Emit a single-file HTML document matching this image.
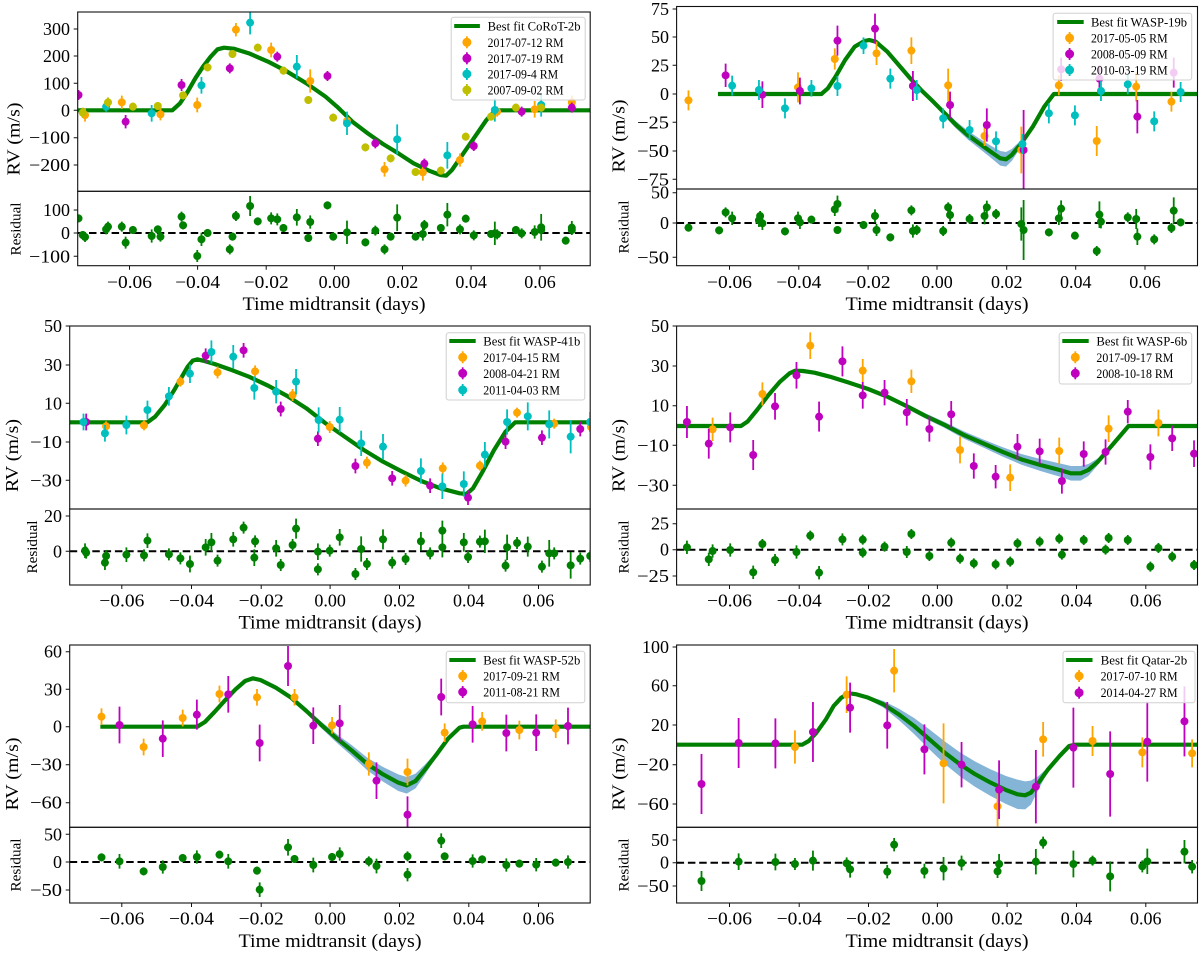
<!DOCTYPE html>
<html><head><meta charset="utf-8"><style>
body{margin:0;background:#fff}
svg{display:block}
text{font-family:"Liberation Serif",serif;fill:#000}
.t{font-size:18px}
.xl{font-size:19px}
.rl{font-size:15px}
.lg{font-size:13px}
.e{fill:none;stroke-width:1.8;vector-effect:non-scaling-stroke}
.fit{fill:none;stroke:#008000;stroke-width:4.2;vector-effect:non-scaling-stroke;stroke-linejoin:round}
.band{fill:#1f77b4;fill-opacity:0.55;stroke:none}
.o{fill:#ffa500;stroke:#ffa500}.m{fill:#bf00bf;stroke:#bf00bf}.c{fill:#00bfbf;stroke:#00bfbf}.y{fill:#bfbf00;stroke:#bfbf00}.g{fill:#008000;stroke:#008000}
ellipse{stroke:none}
.fr{fill:none;stroke:#111;stroke-width:1.1}
.tk{fill:none;stroke:#111;stroke-width:1}
.dz{stroke:#000;stroke-width:2;stroke-dasharray:7.5 3.8}
.lb{fill:#fff;fill-opacity:0.8;stroke:#d0d0d0;stroke-width:1}
.lh{stroke:#008000;stroke-width:4}
</style></head><body>
<svg width="1200" height="956" viewBox="0 0 1200 956" xmlns="http://www.w3.org/2000/svg">
<rect width="1200" height="956" fill="#fff"/>

<!-- dashed zero lines -->
<line class="dz" x1="77.7" y1="233" x2="590.2" y2="233"/>
<line class="dz" x1="676.6" y1="223" x2="1197.5" y2="223"/>
<line class="dz" x1="69.7" y1="551.3" x2="590.2" y2="551.3"/>
<line class="dz" x1="676.6" y1="549.7" x2="1197.5" y2="549.7"/>
<line class="dz" x1="69.7" y1="862" x2="590.2" y2="862"/>
<line class="dz" x1="676.6" y1="862.7" x2="1197.5" y2="862.7"/>

<!-- ============ PANEL 1 ============ -->
<g transform="translate(0,0) scale(0.383,0.333333)">
<clipPath id="c1m"><rect x="203" y="36" width="1338" height="538"/></clipPath>
<clipPath id="c1r"><rect x="203" y="574" width="1338" height="223"/></clipPath>
<g clip-path="url(#c1m)">
<polyline class="fit" points="203,331 450,331 470,310 490,275 510,235 530,200 550,170 568,148 585,143 610,146 650,160 700,185 750,215 800,250 850,290 880,320 920,365 960,400 1000,432 1040,460 1080,490 1120,512 1150,525 1165,527 1180,510 1210,460 1240,410 1270,360 1290,335 1305,331 1541,331"/>
<g class="o"><path class="e" d="M222 325V365M318 287V327M419 325V361M515 293V337M616 69V109M708 128V172M810 208V278M906 348V378M1004 486V530M1104 492V542M1201 460V500M1298 320V350M1396 303V353M1493 287V327"/>
<ellipse cx="222" cy="345" rx="10.44" ry="12"/><ellipse cx="318" cy="307" rx="10.44" ry="12"/><ellipse cx="419" cy="343" rx="10.44" ry="12"/><ellipse cx="515" cy="315" rx="10.44" ry="12"/><ellipse cx="616" cy="89" rx="10.44" ry="12"/><ellipse cx="708" cy="150" rx="10.44" ry="12"/><ellipse cx="810" cy="243" rx="10.44" ry="12"/><ellipse cx="906" cy="363" rx="10.44" ry="12"/><ellipse cx="1004" cy="508" rx="10.44" ry="12"/><ellipse cx="1104" cy="517" rx="10.44" ry="12"/><ellipse cx="1201" cy="480" rx="10.44" ry="12"/><ellipse cx="1298" cy="335" rx="10.44" ry="12"/><ellipse cx="1396" cy="328" rx="10.44" ry="12"/><ellipse cx="1493" cy="307" rx="10.44" ry="12"/></g>
<g class="m"><path class="e" d="M205 270V300M328 345V385M474 237V273M600 190V220M724 155V185M855 213V243M980 415V445M1108 476V506M1237 423V453M1362 320V350M1493 308V338"/>
<ellipse cx="205" cy="285" rx="10.44" ry="12"/><ellipse cx="328" cy="365" rx="10.44" ry="12"/><ellipse cx="474" cy="255" rx="10.44" ry="12"/><ellipse cx="600" cy="205" rx="10.44" ry="12"/><ellipse cx="724" cy="170" rx="10.44" ry="12"/><ellipse cx="855" cy="228" rx="10.44" ry="12"/><ellipse cx="980" cy="430" rx="10.44" ry="12"/><ellipse cx="1108" cy="491" rx="10.44" ry="12"/><ellipse cx="1237" cy="438" rx="10.44" ry="12"/><ellipse cx="1362" cy="335" rx="10.44" ry="12"/><ellipse cx="1493" cy="323" rx="10.44" ry="12"/></g>
<g class="c"><path class="e" d="M277 305V335M396 315V365M526 231V281M653 33V103M775 165V235M906 335V405M1037 373V463M1168 426V506M1292 295V365M1413 280V350"/>
<ellipse cx="277" cy="320" rx="10.44" ry="12"/><ellipse cx="396" cy="340" rx="10.44" ry="12"/><ellipse cx="526" cy="256" rx="10.44" ry="12"/><ellipse cx="653" cy="68" rx="10.44" ry="12"/><ellipse cx="775" cy="200" rx="10.44" ry="12"/><ellipse cx="906" cy="370" rx="10.44" ry="12"/><ellipse cx="1037" cy="418" rx="10.44" ry="12"/><ellipse cx="1168" cy="466" rx="10.44" ry="12"/><ellipse cx="1292" cy="330" rx="10.44" ry="12"/><ellipse cx="1413" cy="315" rx="10.44" ry="12"/></g>
<g class="y"><path class="e" d="M216 323V353M282 292V322M347 308V332M412 306V330M478 274V298M542 190V214M607 150V174M673 131V155M740 200V224M805 288V312M870 341V365M954 430V454M1020 463V487M1085 504V528M1151 500V524M1216 398V422M1282 338V362M1347 311V335M1413 311V335"/>
<ellipse cx="216" cy="338" rx="10.44" ry="12"/><ellipse cx="282" cy="307" rx="10.44" ry="12"/><ellipse cx="347" cy="320" rx="10.44" ry="12"/><ellipse cx="412" cy="318" rx="10.44" ry="12"/><ellipse cx="478" cy="286" rx="10.44" ry="12"/><ellipse cx="542" cy="202" rx="10.44" ry="12"/><ellipse cx="607" cy="162" rx="10.44" ry="12"/><ellipse cx="673" cy="143" rx="10.44" ry="12"/><ellipse cx="740" cy="212" rx="10.44" ry="12"/><ellipse cx="805" cy="300" rx="10.44" ry="12"/><ellipse cx="870" cy="353" rx="10.44" ry="12"/><ellipse cx="954" cy="442" rx="10.44" ry="12"/><ellipse cx="1020" cy="475" rx="10.44" ry="12"/><ellipse cx="1085" cy="516" rx="10.44" ry="12"/><ellipse cx="1151" cy="512" rx="10.44" ry="12"/><ellipse cx="1216" cy="410" rx="10.44" ry="12"/><ellipse cx="1282" cy="350" rx="10.44" ry="12"/><ellipse cx="1347" cy="323" rx="10.44" ry="12"/><ellipse cx="1413" cy="323" rx="10.44" ry="12"/></g>
</g>
<g clip-path="url(#c1r)" class="g"><path class="e" d="M216 693V717M222 696V726M277 673V703M282 665V695M318 665V695M328 710V746M347 678V702M396 688V728M412 676V700M419 695V725M474 635V665M478 664V688M515 750V786M526 698V738M542 687V711M600 733V763M607 698V722M616 633V663M653 588V648M673 652V676M708 637V673M724 640V676M740 672V696M775 627V677M805 702V726M810 646V686M855 604V628M870 698V722M906 662V732M954 715V739M980 677V707M1004 733V763M1020 698V722M1037 613V693M1085 698V722M1104 682V722M1108 660V690M1151 672V696M1168 609V679M1201 673V703M1216 644V668M1237 691V721M1282 690V714M1292 665V735M1298 688V718M1347 678V702M1362 685V715M1396 676V716M1413 642V722M1413 678V702M1477 710V734M1493 663V703M1493 675V705M205 643V667"/>
<ellipse cx="216" cy="705" rx="10.44" ry="12"/><ellipse cx="222" cy="711" rx="10.44" ry="12"/><ellipse cx="277" cy="688" rx="10.44" ry="12"/><ellipse cx="282" cy="680" rx="10.44" ry="12"/><ellipse cx="318" cy="680" rx="10.44" ry="12"/><ellipse cx="328" cy="728" rx="10.44" ry="12"/><ellipse cx="347" cy="690" rx="10.44" ry="12"/><ellipse cx="396" cy="708" rx="10.44" ry="12"/><ellipse cx="412" cy="688" rx="10.44" ry="12"/><ellipse cx="419" cy="710" rx="10.44" ry="12"/><ellipse cx="474" cy="650" rx="10.44" ry="12"/><ellipse cx="478" cy="676" rx="10.44" ry="12"/><ellipse cx="515" cy="768" rx="10.44" ry="12"/><ellipse cx="526" cy="718" rx="10.44" ry="12"/><ellipse cx="542" cy="699" rx="10.44" ry="12"/><ellipse cx="600" cy="748" rx="10.44" ry="12"/><ellipse cx="607" cy="710" rx="10.44" ry="12"/><ellipse cx="616" cy="648" rx="10.44" ry="12"/><ellipse cx="653" cy="618" rx="10.44" ry="12"/><ellipse cx="673" cy="664" rx="10.44" ry="12"/><ellipse cx="708" cy="655" rx="10.44" ry="12"/><ellipse cx="724" cy="658" rx="10.44" ry="12"/><ellipse cx="740" cy="684" rx="10.44" ry="12"/><ellipse cx="775" cy="652" rx="10.44" ry="12"/><ellipse cx="805" cy="714" rx="10.44" ry="12"/><ellipse cx="810" cy="666" rx="10.44" ry="12"/><ellipse cx="855" cy="616" rx="10.44" ry="12"/><ellipse cx="870" cy="710" rx="10.44" ry="12"/><ellipse cx="906" cy="697" rx="10.44" ry="12"/><ellipse cx="954" cy="727" rx="10.44" ry="12"/><ellipse cx="980" cy="692" rx="10.44" ry="12"/><ellipse cx="1004" cy="748" rx="10.44" ry="12"/><ellipse cx="1020" cy="710" rx="10.44" ry="12"/><ellipse cx="1037" cy="653" rx="10.44" ry="12"/><ellipse cx="1085" cy="710" rx="10.44" ry="12"/><ellipse cx="1104" cy="702" rx="10.44" ry="12"/><ellipse cx="1108" cy="675" rx="10.44" ry="12"/><ellipse cx="1151" cy="684" rx="10.44" ry="12"/><ellipse cx="1168" cy="644" rx="10.44" ry="12"/><ellipse cx="1201" cy="688" rx="10.44" ry="12"/><ellipse cx="1216" cy="656" rx="10.44" ry="12"/><ellipse cx="1237" cy="706" rx="10.44" ry="12"/><ellipse cx="1282" cy="702" rx="10.44" ry="12"/><ellipse cx="1292" cy="700" rx="10.44" ry="12"/><ellipse cx="1298" cy="703" rx="10.44" ry="12"/><ellipse cx="1347" cy="690" rx="10.44" ry="12"/><ellipse cx="1362" cy="700" rx="10.44" ry="12"/><ellipse cx="1396" cy="696" rx="10.44" ry="12"/><ellipse cx="1413" cy="682" rx="10.44" ry="12"/><ellipse cx="1413" cy="690" rx="10.44" ry="12"/><ellipse cx="1477" cy="722" rx="10.44" ry="12"/><ellipse cx="1493" cy="683" rx="10.44" ry="12"/><ellipse cx="1493" cy="690" rx="10.44" ry="12"/><ellipse cx="205" cy="655" rx="10.44" ry="12"/></g>
</g>

<!-- ============ PANEL 2 ============ -->
<g transform="translate(600,0) scale(0.383,0.333333)">
<clipPath id="c2m"><rect x="200" y="19.5" width="1360" height="547.5"/></clipPath>
<clipPath id="c2r"><rect x="200" y="567" width="1360" height="230"/></clipPath>
<g clip-path="url(#c2m)">
<polygon class="band" points="720,123 750,152 780,192 810,231 840,266 870,298 900,331 930,364 960,392 990,415 1020,437 1045,453 1060,456 1075,447 1100,420 1130,376 1160,318 1160,322 1130,384 1100,440 1075,483 1060,500 1045,497 1020,473 990,445 960,418 930,386 900,349 870,312 840,278 810,239 780,198 750,158 720,127"/>
<polyline class="fit" points="308,282 578,282 595,265 615,230 640,180 665,140 690,123 703,120 720,125 750,155 780,195 810,235 840,272 870,305 900,340 930,375 960,405 990,430 1020,455 1045,475 1060,478 1075,465 1100,430 1130,380 1160,320 1185,282 1560,282"/>
<g class="o"><path class="e" d="M231 271V331M517 217V307M613 145V209M722 125V195M813 112V192M909 206V306M1004 378V438M1100 380V520M1198 226V286M1297 378V468M1400 215V305M1492 275V335"/>
<ellipse cx="231" cy="301" rx="10.44" ry="12"/><ellipse cx="517" cy="262" rx="10.44" ry="12"/><ellipse cx="613" cy="177" rx="10.44" ry="12"/><ellipse cx="722" cy="160" rx="10.44" ry="12"/><ellipse cx="813" cy="152" rx="10.44" ry="12"/><ellipse cx="909" cy="256" rx="10.44" ry="12"/><ellipse cx="1004" cy="408" rx="10.44" ry="12"/><ellipse cx="1100" cy="450" rx="10.44" ry="12"/><ellipse cx="1198" cy="256" rx="10.44" ry="12"/><ellipse cx="1297" cy="423" rx="10.44" ry="12"/><ellipse cx="1400" cy="260" rx="10.44" ry="12"/><ellipse cx="1492" cy="305" rx="10.44" ry="12"/></g>
<g class="m"><path class="e" d="M328 191V261M424 244V324M522 233V313M620 77V167M718 41V131M817 213V303M914 275V355M1010 325V425M1106 330V570M1204 173V243M1304 196V276M1403 300V400M1498 173V263"/>
<ellipse cx="328" cy="226" rx="10.44" ry="12"/><ellipse cx="424" cy="284" rx="10.44" ry="12"/><ellipse cx="522" cy="273" rx="10.44" ry="12"/><ellipse cx="620" cy="122" rx="10.44" ry="12"/><ellipse cx="718" cy="86" rx="10.44" ry="12"/><ellipse cx="817" cy="258" rx="10.44" ry="12"/><ellipse cx="914" cy="315" rx="10.44" ry="12"/><ellipse cx="1010" cy="375" rx="10.44" ry="12"/><ellipse cx="1106" cy="450" rx="10.44" ry="12"/><ellipse cx="1204" cy="208" rx="10.44" ry="12"/><ellipse cx="1304" cy="236" rx="10.44" ry="12"/><ellipse cx="1403" cy="350" rx="10.44" ry="12"/><ellipse cx="1498" cy="218" rx="10.44" ry="12"/></g>
<g class="c"><path class="e" d="M345 227V287M415 240V300M483 295V355M552 240V290M620 228V288M688 112V162M758 206V266M827 240V300M896 325V385M965 360V420M1034 394V454M1103 402V462M1172 310V370M1240 316V376M1308 243V303M1378 223V283M1447 334V394M1516 246V306"/>
<ellipse cx="345" cy="257" rx="10.44" ry="12"/><ellipse cx="415" cy="270" rx="10.44" ry="12"/><ellipse cx="483" cy="325" rx="10.44" ry="12"/><ellipse cx="552" cy="265" rx="10.44" ry="12"/><ellipse cx="620" cy="258" rx="10.44" ry="12"/><ellipse cx="688" cy="137" rx="10.44" ry="12"/><ellipse cx="758" cy="236" rx="10.44" ry="12"/><ellipse cx="827" cy="270" rx="10.44" ry="12"/><ellipse cx="896" cy="355" rx="10.44" ry="12"/><ellipse cx="965" cy="390" rx="10.44" ry="12"/><ellipse cx="1034" cy="424" rx="10.44" ry="12"/><ellipse cx="1103" cy="432" rx="10.44" ry="12"/><ellipse cx="1172" cy="340" rx="10.44" ry="12"/><ellipse cx="1240" cy="346" rx="10.44" ry="12"/><ellipse cx="1308" cy="273" rx="10.44" ry="12"/><ellipse cx="1378" cy="253" rx="10.44" ry="12"/><ellipse cx="1447" cy="364" rx="10.44" ry="12"/><ellipse cx="1516" cy="276" rx="10.44" ry="12"/></g>
</g>
<g clip-path="url(#c2r)" class="g"><path class="e" d="M231 671V695M311 679V703M328 622V652M345 635V675M415 641V681M418 633V663M424 650V690M483 682V706M517 635V675M522 647V687M552 647V671M613 608V648M620 587V637M620 678V702M688 663V687M718 628V668M722 672V708M758 700V724M813 616V646M817 673V713M827 675V705M896 678V708M909 607V637M914 625V665M965 642V672M1004 623V673M1010 602V642M1034 627V657M1100 622V722M1106 600V780M1172 685V709M1198 635V675M1204 601V651M1240 695V719M1297 738V768M1304 604V684M1308 645V685M1378 637V667M1400 627V687M1403 685V735M1447 703V733M1492 669V699M1498 592V672M1516 655V679"/>
<ellipse cx="231" cy="683" rx="10.44" ry="12"/><ellipse cx="311" cy="691" rx="10.44" ry="12"/><ellipse cx="328" cy="637" rx="10.44" ry="12"/><ellipse cx="345" cy="655" rx="10.44" ry="12"/><ellipse cx="415" cy="661" rx="10.44" ry="12"/><ellipse cx="418" cy="648" rx="10.44" ry="12"/><ellipse cx="424" cy="670" rx="10.44" ry="12"/><ellipse cx="483" cy="694" rx="10.44" ry="12"/><ellipse cx="517" cy="655" rx="10.44" ry="12"/><ellipse cx="522" cy="667" rx="10.44" ry="12"/><ellipse cx="552" cy="659" rx="10.44" ry="12"/><ellipse cx="613" cy="628" rx="10.44" ry="12"/><ellipse cx="620" cy="612" rx="10.44" ry="12"/><ellipse cx="620" cy="690" rx="10.44" ry="12"/><ellipse cx="688" cy="675" rx="10.44" ry="12"/><ellipse cx="718" cy="648" rx="10.44" ry="12"/><ellipse cx="722" cy="690" rx="10.44" ry="12"/><ellipse cx="758" cy="712" rx="10.44" ry="12"/><ellipse cx="813" cy="631" rx="10.44" ry="12"/><ellipse cx="817" cy="693" rx="10.44" ry="12"/><ellipse cx="827" cy="690" rx="10.44" ry="12"/><ellipse cx="896" cy="693" rx="10.44" ry="12"/><ellipse cx="909" cy="622" rx="10.44" ry="12"/><ellipse cx="914" cy="645" rx="10.44" ry="12"/><ellipse cx="965" cy="657" rx="10.44" ry="12"/><ellipse cx="1004" cy="648" rx="10.44" ry="12"/><ellipse cx="1010" cy="622" rx="10.44" ry="12"/><ellipse cx="1034" cy="642" rx="10.44" ry="12"/><ellipse cx="1100" cy="672" rx="10.44" ry="12"/><ellipse cx="1106" cy="690" rx="10.44" ry="12"/><ellipse cx="1172" cy="697" rx="10.44" ry="12"/><ellipse cx="1198" cy="655" rx="10.44" ry="12"/><ellipse cx="1204" cy="626" rx="10.44" ry="12"/><ellipse cx="1240" cy="707" rx="10.44" ry="12"/><ellipse cx="1297" cy="753" rx="10.44" ry="12"/><ellipse cx="1304" cy="644" rx="10.44" ry="12"/><ellipse cx="1308" cy="665" rx="10.44" ry="12"/><ellipse cx="1378" cy="652" rx="10.44" ry="12"/><ellipse cx="1400" cy="657" rx="10.44" ry="12"/><ellipse cx="1403" cy="710" rx="10.44" ry="12"/><ellipse cx="1447" cy="718" rx="10.44" ry="12"/><ellipse cx="1492" cy="684" rx="10.44" ry="12"/><ellipse cx="1498" cy="632" rx="10.44" ry="12"/><ellipse cx="1516" cy="667" rx="10.44" ry="12"/></g>
</g>

<!-- ============ PANEL 3 ============ -->
<g transform="translate(0,310) scale(0.383,0.333333)">
<clipPath id="c3m"><rect x="182" y="48" width="1359" height="549"/></clipPath>
<clipPath id="c3r"><rect x="182" y="597" width="1359" height="228"/></clipPath>
<g clip-path="url(#c3m)">
<polyline class="fit" points="182,337 385,337 405,320 430,285 455,240 475,200 490,170 503,152 515,148 530,152 560,162 600,178 650,200 700,227 750,258 800,295 850,340 900,380 950,420 1000,455 1050,485 1100,513 1150,535 1200,550 1218,552 1235,535 1260,485 1290,420 1320,365 1345,337 1541,337"/>
<g class="o"><path class="e" d="M277 334V364M376 331V361M471 200V230M568 169V205M666 166V202M764 237V273M861 333V369M958 440V476M1059 494V530M1156 457V493M1253 452V482M1350 293V323M1447 326V356M1543 336V366"/>
<ellipse cx="277" cy="349" rx="10.44" ry="12"/><ellipse cx="376" cy="346" rx="10.44" ry="12"/><ellipse cx="471" cy="215" rx="10.44" ry="12"/><ellipse cx="568" cy="187" rx="10.44" ry="12"/><ellipse cx="666" cy="184" rx="10.44" ry="12"/><ellipse cx="764" cy="255" rx="10.44" ry="12"/><ellipse cx="861" cy="351" rx="10.44" ry="12"/><ellipse cx="958" cy="458" rx="10.44" ry="12"/><ellipse cx="1059" cy="512" rx="10.44" ry="12"/><ellipse cx="1156" cy="475" rx="10.44" ry="12"/><ellipse cx="1253" cy="467" rx="10.44" ry="12"/><ellipse cx="1350" cy="308" rx="10.44" ry="12"/><ellipse cx="1447" cy="341" rx="10.44" ry="12"/><ellipse cx="1543" cy="351" rx="10.44" ry="12"/></g>
<g class="m"><path class="e" d="M225 311V361M537 115V159M636 99V143M733 275V319M830 364V408M928 446V490M1024 483V527M1123 505V549M1222 541V585M1320 373V417M1415 361V405M1515 335V379"/>
<ellipse cx="225" cy="336" rx="10.44" ry="12"/><ellipse cx="537" cy="137" rx="10.44" ry="12"/><ellipse cx="636" cy="121" rx="10.44" ry="12"/><ellipse cx="733" cy="297" rx="10.44" ry="12"/><ellipse cx="830" cy="386" rx="10.44" ry="12"/><ellipse cx="928" cy="468" rx="10.44" ry="12"/><ellipse cx="1024" cy="505" rx="10.44" ry="12"/><ellipse cx="1123" cy="527" rx="10.44" ry="12"/><ellipse cx="1222" cy="563" rx="10.44" ry="12"/><ellipse cx="1320" cy="395" rx="10.44" ry="12"/><ellipse cx="1415" cy="383" rx="10.44" ry="12"/><ellipse cx="1515" cy="357" rx="10.44" ry="12"/></g>
<g class="c"><path class="e" d="M218 311V361M274 345V395M330 317V373M385 272V328M441 231V287M496 163V219M552 91V161M609 105V175M664 199V269M721 210V280M773 177V253M832 292V368M887 291V367M943 362V438M1000 372V448M1099 445V521M1155 491V567M1211 484V560M1266 396V472M1324 298V374M1378 277V361M1434 301V385M1490 330V430M1541 306V366"/>
<ellipse cx="218" cy="336" rx="10.44" ry="12"/><ellipse cx="274" cy="370" rx="10.44" ry="12"/><ellipse cx="330" cy="345" rx="10.44" ry="12"/><ellipse cx="385" cy="300" rx="10.44" ry="12"/><ellipse cx="441" cy="259" rx="10.44" ry="12"/><ellipse cx="496" cy="191" rx="10.44" ry="12"/><ellipse cx="552" cy="126" rx="10.44" ry="12"/><ellipse cx="609" cy="140" rx="10.44" ry="12"/><ellipse cx="664" cy="234" rx="10.44" ry="12"/><ellipse cx="721" cy="245" rx="10.44" ry="12"/><ellipse cx="773" cy="215" rx="10.44" ry="12"/><ellipse cx="832" cy="330" rx="10.44" ry="12"/><ellipse cx="887" cy="329" rx="10.44" ry="12"/><ellipse cx="943" cy="400" rx="10.44" ry="12"/><ellipse cx="1000" cy="410" rx="10.44" ry="12"/><ellipse cx="1099" cy="483" rx="10.44" ry="12"/><ellipse cx="1155" cy="529" rx="10.44" ry="12"/><ellipse cx="1211" cy="522" rx="10.44" ry="12"/><ellipse cx="1266" cy="434" rx="10.44" ry="12"/><ellipse cx="1324" cy="336" rx="10.44" ry="12"/><ellipse cx="1378" cy="319" rx="10.44" ry="12"/><ellipse cx="1434" cy="343" rx="10.44" ry="12"/><ellipse cx="1490" cy="380" rx="10.44" ry="12"/><ellipse cx="1541" cy="336" rx="10.44" ry="12"/></g>
</g>
<g clip-path="url(#c3r)" class="g"><path class="e" d="M222 700V744M225 710V746M274 736V780M277 720V756M330 712V756M376 718V754M385 670V714M441 715V751M471 727V763M496 737V787M537 687V737M552 669V725M568 734V770M609 666V710M636 635V671M664 718V768M666 676V712M721 690V740M733 747V783M764 687V723M773 626V686M830 700V750M830 760V796M861 704V740M887 657V707M928 774V810M943 679V755M958 744V780M1000 658V718M1024 740V776M1059 729V765M1099 666V722M1123 712V748M1155 632V692M1155 682V742M1211 669V725M1222 723V759M1253 677V713M1266 659V729M1320 749V785M1324 674V750M1350 681V717M1378 680V740M1415 752V788M1434 690V770M1447 712V748M1490 726V806M1515 728V764M1541 720V756"/>
<ellipse cx="222" cy="722" rx="10.44" ry="12"/><ellipse cx="225" cy="728" rx="10.44" ry="12"/><ellipse cx="274" cy="758" rx="10.44" ry="12"/><ellipse cx="277" cy="738" rx="10.44" ry="12"/><ellipse cx="330" cy="734" rx="10.44" ry="12"/><ellipse cx="376" cy="736" rx="10.44" ry="12"/><ellipse cx="385" cy="692" rx="10.44" ry="12"/><ellipse cx="441" cy="733" rx="10.44" ry="12"/><ellipse cx="471" cy="745" rx="10.44" ry="12"/><ellipse cx="496" cy="762" rx="10.44" ry="12"/><ellipse cx="537" cy="712" rx="10.44" ry="12"/><ellipse cx="552" cy="697" rx="10.44" ry="12"/><ellipse cx="568" cy="752" rx="10.44" ry="12"/><ellipse cx="609" cy="688" rx="10.44" ry="12"/><ellipse cx="636" cy="653" rx="10.44" ry="12"/><ellipse cx="664" cy="743" rx="10.44" ry="12"/><ellipse cx="666" cy="694" rx="10.44" ry="12"/><ellipse cx="721" cy="715" rx="10.44" ry="12"/><ellipse cx="733" cy="765" rx="10.44" ry="12"/><ellipse cx="764" cy="705" rx="10.44" ry="12"/><ellipse cx="773" cy="656" rx="10.44" ry="12"/><ellipse cx="830" cy="725" rx="10.44" ry="12"/><ellipse cx="830" cy="778" rx="10.44" ry="12"/><ellipse cx="861" cy="722" rx="10.44" ry="12"/><ellipse cx="887" cy="682" rx="10.44" ry="12"/><ellipse cx="928" cy="792" rx="10.44" ry="12"/><ellipse cx="943" cy="717" rx="10.44" ry="12"/><ellipse cx="958" cy="762" rx="10.44" ry="12"/><ellipse cx="1000" cy="688" rx="10.44" ry="12"/><ellipse cx="1024" cy="758" rx="10.44" ry="12"/><ellipse cx="1059" cy="747" rx="10.44" ry="12"/><ellipse cx="1099" cy="694" rx="10.44" ry="12"/><ellipse cx="1123" cy="730" rx="10.44" ry="12"/><ellipse cx="1155" cy="662" rx="10.44" ry="12"/><ellipse cx="1155" cy="712" rx="10.44" ry="12"/><ellipse cx="1211" cy="697" rx="10.44" ry="12"/><ellipse cx="1222" cy="741" rx="10.44" ry="12"/><ellipse cx="1253" cy="695" rx="10.44" ry="12"/><ellipse cx="1266" cy="694" rx="10.44" ry="12"/><ellipse cx="1320" cy="767" rx="10.44" ry="12"/><ellipse cx="1324" cy="712" rx="10.44" ry="12"/><ellipse cx="1350" cy="699" rx="10.44" ry="12"/><ellipse cx="1378" cy="710" rx="10.44" ry="12"/><ellipse cx="1415" cy="770" rx="10.44" ry="12"/><ellipse cx="1434" cy="730" rx="10.44" ry="12"/><ellipse cx="1447" cy="730" rx="10.44" ry="12"/><ellipse cx="1490" cy="766" rx="10.44" ry="12"/><ellipse cx="1515" cy="746" rx="10.44" ry="12"/><ellipse cx="1541" cy="738" rx="10.44" ry="12"/></g>
</g>

<!-- ============ PANEL 4 ============ -->
<g transform="translate(600,310) scale(0.383,0.333333)">
<clipPath id="c4m"><rect x="200" y="48" width="1360" height="549"/></clipPath>
<clipPath id="c4r"><rect x="200" y="597" width="1360" height="228"/></clipPath>
<g clip-path="url(#c4m)">
<polygon class="band" points="480,204 510,179 560,184 600,196 650,213 700,232 750,254 800,281 850,310 900,336 950,364 1000,388 1050,411 1100,432 1150,447 1200,460 1230,468 1255,468 1275,462 1300,445 1330,412 1330,418 1300,465 1275,498 1255,512 1230,512 1200,500 1150,483 1100,464 1050,439 1000,412 950,386 900,354 850,326 800,295 750,266 700,242 650,223 600,204 560,192 510,185 480,206"/>
<polyline class="fit" points="200,348 368,348 385,335 410,300 440,255 470,215 495,190 510,182 530,183 560,188 600,200 650,218 700,237 750,260 800,288 850,318 900,345 950,375 1000,400 1050,425 1100,448 1150,465 1200,480 1230,490 1255,490 1275,480 1300,455 1330,415 1360,375 1380,348 1560,348"/>
<g class="o"><path class="e" d="M294 323V393M424 217V287M549 67V147M686 147V217M813 179V249M940 380V460M1071 463V543M1199 383V463M1328 316V396M1458 299V379"/>
<ellipse cx="294" cy="358" rx="10.44" ry="12"/><ellipse cx="424" cy="252" rx="10.44" ry="12"/><ellipse cx="549" cy="107" rx="10.44" ry="12"/><ellipse cx="686" cy="182" rx="10.44" ry="12"/><ellipse cx="813" cy="214" rx="10.44" ry="12"/><ellipse cx="940" cy="420" rx="10.44" ry="12"/><ellipse cx="1071" cy="503" rx="10.44" ry="12"/><ellipse cx="1199" cy="423" rx="10.44" ry="12"/><ellipse cx="1328" cy="356" rx="10.44" ry="12"/><ellipse cx="1458" cy="339" rx="10.44" ry="12"/></g>
<g class="m"><path class="e" d="M227 288V384M284 356V446M340 307V397M400 390V480M457 249V329M513 156V236M572 275V365M633 109V199M686 216V296M743 210V286M801 267V347M860 319V395M917 273V353M976 430V506M1033 465V535M1090 372V448M1148 386V462M1206 475V551M1263 394V470M1320 388V464M1378 270V340M1437 403V479M1494 347V423M1551 391V471"/>
<ellipse cx="227" cy="336" rx="10.44" ry="12"/><ellipse cx="284" cy="401" rx="10.44" ry="12"/><ellipse cx="340" cy="352" rx="10.44" ry="12"/><ellipse cx="400" cy="435" rx="10.44" ry="12"/><ellipse cx="457" cy="289" rx="10.44" ry="12"/><ellipse cx="513" cy="196" rx="10.44" ry="12"/><ellipse cx="572" cy="320" rx="10.44" ry="12"/><ellipse cx="633" cy="154" rx="10.44" ry="12"/><ellipse cx="686" cy="256" rx="10.44" ry="12"/><ellipse cx="743" cy="248" rx="10.44" ry="12"/><ellipse cx="801" cy="307" rx="10.44" ry="12"/><ellipse cx="860" cy="357" rx="10.44" ry="12"/><ellipse cx="917" cy="313" rx="10.44" ry="12"/><ellipse cx="976" cy="468" rx="10.44" ry="12"/><ellipse cx="1033" cy="500" rx="10.44" ry="12"/><ellipse cx="1090" cy="410" rx="10.44" ry="12"/><ellipse cx="1148" cy="424" rx="10.44" ry="12"/><ellipse cx="1206" cy="513" rx="10.44" ry="12"/><ellipse cx="1263" cy="432" rx="10.44" ry="12"/><ellipse cx="1320" cy="426" rx="10.44" ry="12"/><ellipse cx="1378" cy="305" rx="10.44" ry="12"/><ellipse cx="1437" cy="441" rx="10.44" ry="12"/><ellipse cx="1494" cy="385" rx="10.44" ry="12"/><ellipse cx="1551" cy="431" rx="10.44" ry="12"/></g>
</g>
<g clip-path="url(#c4r)" class="g"><path class="e" d="M227 692V732M284 728V768M294 703V743M340 700V740M400 767V807M424 687V717M457 732V768M513 706V746M549 662V692M572 768V808M633 670V706M686 674V704M686 713V743M743 695V725M801 708V744M813 657V687M860 723V753M917 683V713M940 731V761M976 745V775M1033 748V778M1071 740V770M1090 685V715M1148 680V710M1199 671V701M1206 719V749M1263 675V705M1320 704V734M1328 669V699M1378 675V705M1437 755V785M1458 699V729M1494 725V755M1551 750V780"/>
<ellipse cx="227" cy="712" rx="10.44" ry="12"/><ellipse cx="284" cy="748" rx="10.44" ry="12"/><ellipse cx="294" cy="723" rx="10.44" ry="12"/><ellipse cx="340" cy="720" rx="10.44" ry="12"/><ellipse cx="400" cy="787" rx="10.44" ry="12"/><ellipse cx="424" cy="702" rx="10.44" ry="12"/><ellipse cx="457" cy="750" rx="10.44" ry="12"/><ellipse cx="513" cy="726" rx="10.44" ry="12"/><ellipse cx="549" cy="677" rx="10.44" ry="12"/><ellipse cx="572" cy="788" rx="10.44" ry="12"/><ellipse cx="633" cy="688" rx="10.44" ry="12"/><ellipse cx="686" cy="689" rx="10.44" ry="12"/><ellipse cx="686" cy="728" rx="10.44" ry="12"/><ellipse cx="743" cy="710" rx="10.44" ry="12"/><ellipse cx="801" cy="726" rx="10.44" ry="12"/><ellipse cx="813" cy="672" rx="10.44" ry="12"/><ellipse cx="860" cy="738" rx="10.44" ry="12"/><ellipse cx="917" cy="698" rx="10.44" ry="12"/><ellipse cx="940" cy="746" rx="10.44" ry="12"/><ellipse cx="976" cy="760" rx="10.44" ry="12"/><ellipse cx="1033" cy="763" rx="10.44" ry="12"/><ellipse cx="1071" cy="755" rx="10.44" ry="12"/><ellipse cx="1090" cy="700" rx="10.44" ry="12"/><ellipse cx="1148" cy="695" rx="10.44" ry="12"/><ellipse cx="1199" cy="686" rx="10.44" ry="12"/><ellipse cx="1206" cy="734" rx="10.44" ry="12"/><ellipse cx="1263" cy="690" rx="10.44" ry="12"/><ellipse cx="1320" cy="719" rx="10.44" ry="12"/><ellipse cx="1328" cy="684" rx="10.44" ry="12"/><ellipse cx="1378" cy="690" rx="10.44" ry="12"/><ellipse cx="1437" cy="770" rx="10.44" ry="12"/><ellipse cx="1458" cy="714" rx="10.44" ry="12"/><ellipse cx="1494" cy="740" rx="10.44" ry="12"/><ellipse cx="1551" cy="765" rx="10.44" ry="12"/></g>
</g>

<!-- ============ PANEL 5 ============ -->
<g transform="translate(0,636) scale(0.383,0.333333)">
<clipPath id="c5m"><rect x="182" y="27" width="1359" height="547"/></clipPath>
<clipPath id="c5r"><rect x="182" y="574" width="1359" height="227"/></clipPath>
<g clip-path="url(#c5m)">
<polygon class="band" points="760,183 800,219 840,258 880,295 920,329 960,366 1000,393 1040,415 1062,423 1085,413 1110,385 1140,348 1170,307 1170,309 1140,362 1110,415 1085,457 1062,473 1040,465 1000,437 960,404 920,361 880,321 840,278 800,231 760,187"/>
<polyline class="fit" points="262,272 515,272 535,258 560,228 590,190 615,160 640,135 660,127 680,132 720,155 760,185 800,225 840,268 880,308 920,345 960,385 1000,415 1040,440 1062,448 1085,435 1110,400 1140,355 1170,308 1200,275 1210,272 1541,272"/>
<g class="o"><path class="e" d="M265 217V267M375 308V358M477 221V271M573 149V199M671 159V209M769 159V209M867 243V293M963 349V419M1064 368V448M1161 262V318M1259 228V284M1356 254V310M1451 250V306"/>
<ellipse cx="265" cy="242" rx="10.44" ry="12"/><ellipse cx="375" cy="333" rx="10.44" ry="12"/><ellipse cx="477" cy="246" rx="10.44" ry="12"/><ellipse cx="573" cy="174" rx="10.44" ry="12"/><ellipse cx="671" cy="184" rx="10.44" ry="12"/><ellipse cx="769" cy="184" rx="10.44" ry="12"/><ellipse cx="867" cy="268" rx="10.44" ry="12"/><ellipse cx="963" cy="384" rx="10.44" ry="12"/><ellipse cx="1064" cy="408" rx="10.44" ry="12"/><ellipse cx="1161" cy="290" rx="10.44" ry="12"/><ellipse cx="1259" cy="256" rx="10.44" ry="12"/><ellipse cx="1356" cy="282" rx="10.44" ry="12"/><ellipse cx="1451" cy="278" rx="10.44" ry="12"/></g>
<g class="m"><path class="e" d="M312 212V322M425 253V363M514 191V281M596 120V230M678 266V376M752 30V150M818 214V324M887 207V317M983 379V489M1064 481V591M1152 128V238M1234 210V320M1322 236V346M1400 235V345M1483 215V325"/>
<ellipse cx="312" cy="267" rx="10.44" ry="12"/><ellipse cx="425" cy="308" rx="10.44" ry="12"/><ellipse cx="514" cy="236" rx="10.44" ry="12"/><ellipse cx="596" cy="175" rx="10.44" ry="12"/><ellipse cx="678" cy="321" rx="10.44" ry="12"/><ellipse cx="752" cy="90" rx="10.44" ry="12"/><ellipse cx="818" cy="269" rx="10.44" ry="12"/><ellipse cx="887" cy="262" rx="10.44" ry="12"/><ellipse cx="983" cy="434" rx="10.44" ry="12"/><ellipse cx="1064" cy="536" rx="10.44" ry="12"/><ellipse cx="1152" cy="183" rx="10.44" ry="12"/><ellipse cx="1234" cy="265" rx="10.44" ry="12"/><ellipse cx="1322" cy="291" rx="10.44" ry="12"/><ellipse cx="1400" cy="290" rx="10.44" ry="12"/><ellipse cx="1483" cy="270" rx="10.44" ry="12"/></g>
</g>
<g clip-path="url(#c5r)" class="g"><path class="e" d="M265 652V676M312 654V698M375 694V718M425 673V713M477 654V678M514 643V683M573 644V668M596 654V698M671 692V716M678 739V783M752 609V659M769 657V681M818 665V709M867 651V675M887 634V674M963 661V691M983 668V712M1064 646V676M1064 696V736M1152 592V636M1161 649V673M1234 655V695M1259 658V682M1322 667V707M1356 671V695M1400 666V706M1451 668V692M1483 658V698"/>
<ellipse cx="265" cy="664" rx="10.44" ry="12"/><ellipse cx="312" cy="676" rx="10.44" ry="12"/><ellipse cx="375" cy="706" rx="10.44" ry="12"/><ellipse cx="425" cy="693" rx="10.44" ry="12"/><ellipse cx="477" cy="666" rx="10.44" ry="12"/><ellipse cx="514" cy="663" rx="10.44" ry="12"/><ellipse cx="573" cy="656" rx="10.44" ry="12"/><ellipse cx="596" cy="676" rx="10.44" ry="12"/><ellipse cx="671" cy="704" rx="10.44" ry="12"/><ellipse cx="678" cy="761" rx="10.44" ry="12"/><ellipse cx="752" cy="634" rx="10.44" ry="12"/><ellipse cx="769" cy="669" rx="10.44" ry="12"/><ellipse cx="818" cy="687" rx="10.44" ry="12"/><ellipse cx="867" cy="663" rx="10.44" ry="12"/><ellipse cx="887" cy="654" rx="10.44" ry="12"/><ellipse cx="963" cy="676" rx="10.44" ry="12"/><ellipse cx="983" cy="690" rx="10.44" ry="12"/><ellipse cx="1064" cy="661" rx="10.44" ry="12"/><ellipse cx="1064" cy="716" rx="10.44" ry="12"/><ellipse cx="1152" cy="614" rx="10.44" ry="12"/><ellipse cx="1161" cy="661" rx="10.44" ry="12"/><ellipse cx="1234" cy="675" rx="10.44" ry="12"/><ellipse cx="1259" cy="670" rx="10.44" ry="12"/><ellipse cx="1322" cy="687" rx="10.44" ry="12"/><ellipse cx="1356" cy="683" rx="10.44" ry="12"/><ellipse cx="1400" cy="686" rx="10.44" ry="12"/><ellipse cx="1451" cy="680" rx="10.44" ry="12"/><ellipse cx="1483" cy="678" rx="10.44" ry="12"/></g>
</g>

<!-- ============ PANEL 6 ============ -->
<g transform="translate(600,636) scale(0.383,0.333333)">
<clipPath id="c6m"><rect x="200" y="27" width="1360" height="547"/></clipPath>
<clipPath id="c6r"><rect x="200" y="574" width="1360" height="227"/></clipPath>
<g clip-path="url(#c6m)">
<polygon class="band" points="660,171 700,180 740,195 780,218 820,246 860,280 900,316 940,349 980,377 1020,400 1060,420 1090,431 1110,436 1125,434 1145,420 1170,394 1190,372 1190,374 1170,406 1145,460 1125,506 1110,520 1090,519 1060,504 1020,480 980,453 940,421 900,384 860,340 820,294 780,252 740,215 700,190 660,175"/>
<polyline class="fit" points="200,326 528,326 545,315 565,290 590,250 610,210 630,185 650,172 670,175 700,185 740,205 780,235 820,270 860,310 900,350 940,385 980,415 1020,440 1060,462 1090,475 1110,478 1125,470 1145,440 1170,400 1200,360 1225,330 1240,326 1560,326"/>
<g class="o"><path class="e" d="M509 283V383M644 121V231M768 39V169M897 262V502M1038 451V571M1157 258V362M1286 270V360M1416 304V394M1546 310V394"/>
<ellipse cx="509" cy="333" rx="10.44" ry="12"/><ellipse cx="644" cy="176" rx="10.44" ry="12"/><ellipse cx="768" cy="104" rx="10.44" ry="12"/><ellipse cx="897" cy="382" rx="10.44" ry="12"/><ellipse cx="1038" cy="511" rx="10.44" ry="12"/><ellipse cx="1157" cy="310" rx="10.44" ry="12"/><ellipse cx="1286" cy="315" rx="10.44" ry="12"/><ellipse cx="1416" cy="349" rx="10.44" ry="12"/><ellipse cx="1546" cy="352" rx="10.44" ry="12"/></g>
<g class="m"><path class="e" d="M265 354V534M362 246V396M458 247V397M556 198V378M653 140V290M750 198V338M847 265V415M944 318V454M1042 373V549M1138 342V562M1236 215V455M1332 286V542M1429 197V437M1526 151V361"/>
<ellipse cx="265" cy="444" rx="10.44" ry="12"/><ellipse cx="362" cy="321" rx="10.44" ry="12"/><ellipse cx="458" cy="322" rx="10.44" ry="12"/><ellipse cx="556" cy="288" rx="10.44" ry="12"/><ellipse cx="653" cy="215" rx="10.44" ry="12"/><ellipse cx="750" cy="268" rx="10.44" ry="12"/><ellipse cx="847" cy="340" rx="10.44" ry="12"/><ellipse cx="944" cy="386" rx="10.44" ry="12"/><ellipse cx="1042" cy="461" rx="10.44" ry="12"/><ellipse cx="1138" cy="452" rx="10.44" ry="12"/><ellipse cx="1236" cy="335" rx="10.44" ry="12"/><ellipse cx="1332" cy="414" rx="10.44" ry="12"/><ellipse cx="1429" cy="317" rx="10.44" ry="12"/><ellipse cx="1526" cy="256" rx="10.44" ry="12"/></g>
</g>
<g clip-path="url(#c6r)" class="g"><path class="e" d="M265 705V765M362 652V702M458 653V703M509 666V702M556 644V704M644 664V700M653 675V725M750 687V727M768 606V646M847 683V727M897 663V733M944 659V703M1038 686V726M1042 654V714M1138 639V715M1157 602V638M1236 644V724M1286 659V689M1332 676V766M1416 673V709M1429 638V714M1526 612V682M1546 672V712"/>
<ellipse cx="265" cy="735" rx="10.44" ry="12"/><ellipse cx="362" cy="677" rx="10.44" ry="12"/><ellipse cx="458" cy="678" rx="10.44" ry="12"/><ellipse cx="509" cy="684" rx="10.44" ry="12"/><ellipse cx="556" cy="674" rx="10.44" ry="12"/><ellipse cx="644" cy="682" rx="10.44" ry="12"/><ellipse cx="653" cy="700" rx="10.44" ry="12"/><ellipse cx="750" cy="707" rx="10.44" ry="12"/><ellipse cx="768" cy="626" rx="10.44" ry="12"/><ellipse cx="847" cy="705" rx="10.44" ry="12"/><ellipse cx="897" cy="698" rx="10.44" ry="12"/><ellipse cx="944" cy="681" rx="10.44" ry="12"/><ellipse cx="1038" cy="706" rx="10.44" ry="12"/><ellipse cx="1042" cy="684" rx="10.44" ry="12"/><ellipse cx="1138" cy="677" rx="10.44" ry="12"/><ellipse cx="1157" cy="620" rx="10.44" ry="12"/><ellipse cx="1236" cy="684" rx="10.44" ry="12"/><ellipse cx="1286" cy="674" rx="10.44" ry="12"/><ellipse cx="1332" cy="721" rx="10.44" ry="12"/><ellipse cx="1416" cy="691" rx="10.44" ry="12"/><ellipse cx="1429" cy="676" rx="10.44" ry="12"/><ellipse cx="1526" cy="647" rx="10.44" ry="12"/><ellipse cx="1546" cy="692" rx="10.44" ry="12"/></g>
</g>

<!-- ============ FRAMES & TICKS ============ -->
<rect class="fr" x="77.7" y="12" width="512.5" height="179.3"/>
<rect class="fr" x="77.7" y="191.3" width="512.5" height="74.4"/>
<rect class="fr" x="676.6" y="6.5" width="520.9" height="182.5"/>
<rect class="fr" x="676.6" y="189" width="520.9" height="76.7"/>
<rect class="fr" x="69.7" y="326" width="520.5" height="183"/>
<rect class="fr" x="69.7" y="509" width="520.5" height="76"/>
<rect class="fr" x="676.6" y="326" width="520.9" height="183"/>
<rect class="fr" x="676.6" y="509" width="520.9" height="76"/>
<rect class="fr" x="69.7" y="645" width="520.5" height="182.3"/>
<rect class="fr" x="69.7" y="827.3" width="520.5" height="75.7"/>
<rect class="fr" x="676.6" y="645" width="520.9" height="182.3"/>
<rect class="fr" x="676.6" y="827.3" width="520.9" height="75.7"/>

<path class="tk" d="M73.7 29H77.7M73.7 56H77.7M73.7 83.3H77.7M73.7 110.3H77.7M73.7 137.7H77.7M73.7 165H77.7M73.7 210H77.7M73.7 233H77.7M73.7 256.3H77.7
M129.5 265.7V269.7M197.6 265.7V269.7M266.2 265.7V269.7M334.4 265.7V269.7M402.5 265.7V269.7M471.1 265.7V269.7M540 265.7V269.7
M672.6 9H676.6M672.6 37H676.6M672.6 65.3H676.6M672.6 94H676.6M672.6 122.3H676.6M672.6 151H676.6M672.6 179.3H676.6M672.6 192.7H676.6M672.6 223H676.6M672.6 257.3H676.6
M729.5 265.7V269.7M798.8 265.7V269.7M868.1 265.7V269.7M937 265.7V269.7M1006.7 265.7V269.7M1075.7 265.7V269.7M1145 265.7V269.7
M65.7 326H69.7M65.7 365H69.7M65.7 403.3H69.7M65.7 442H69.7M65.7 480.3H69.7M65.7 516H69.7M65.7 551.3H69.7
M121.8 585V589M191.5 585V589M261.2 585V589M330.1 585V589M399.5 585V589M468.8 585V589M538.5 585V589
M672.6 326H676.6M672.6 366H676.6M672.6 405.7H676.6M672.6 445.3H676.6M672.6 485.3H676.6M672.6 523.7H676.6M672.6 549.7H676.6M672.6 576H676.6
M729.5 585V589M799.2 585V589M868.5 585V589M937.4 585V589M1007.1 585V589M1076.5 585V589M1145.8 585V589
M65.7 651.7H69.7M65.7 689.3H69.7M65.7 726.7H69.7M65.7 764.7H69.7M65.7 802.7H69.7M65.7 834.3H69.7M65.7 862H69.7M65.7 890H69.7
M121.8 903V907M191.5 903V907M261.2 903V907M330.1 903V907M399.5 903V907M468.8 903V907M538.5 903V907
M672.6 647H676.6M672.6 685.7H676.6M672.6 725H676.6M672.6 764.7H676.6M672.6 804H676.6M672.6 840H676.6M672.6 862.7H676.6M672.6 886H676.6
M729.5 903V907M799.2 903V907M868.5 903V907M937.4 903V907M1007.1 903V907M1076.5 903V907M1145.8 903V907"/>

<!-- ============ Y TICK LABELS ============ -->
<g class="t" text-anchor="end">
<text x="70" y="35">300</text><text x="70" y="62">200</text><text x="70" y="89.3">100</text><text x="70" y="116.3">0</text><text x="70" y="143.7" textLength="41" lengthAdjust="spacingAndGlyphs">−100</text><text x="70" y="171" textLength="41" lengthAdjust="spacingAndGlyphs">−200</text>
<text x="70" y="216">100</text><text x="70" y="239">0</text><text x="70" y="262.3" textLength="41" lengthAdjust="spacingAndGlyphs">−100</text>

<text x="669" y="15">75</text><text x="669" y="43">50</text><text x="669" y="71.3">25</text><text x="669" y="100">0</text><text x="669" y="128.3" textLength="32" lengthAdjust="spacingAndGlyphs">−25</text><text x="669" y="157" textLength="32" lengthAdjust="spacingAndGlyphs">−50</text><text x="669" y="185.3" textLength="32" lengthAdjust="spacingAndGlyphs">−75</text>
<text x="669" y="198.7">50</text><text x="669" y="229">0</text><text x="669" y="263.3" textLength="32" lengthAdjust="spacingAndGlyphs">−50</text>

<text x="62" y="332">50</text><text x="62" y="371">30</text><text x="62" y="409.3">10</text><text x="62" y="448" textLength="32" lengthAdjust="spacingAndGlyphs">−10</text><text x="62" y="486.3" textLength="32" lengthAdjust="spacingAndGlyphs">−30</text>
<text x="62" y="522">20</text><text x="62" y="557.3">0</text>

<text x="669" y="332">50</text><text x="669" y="372">30</text><text x="669" y="411.7">10</text><text x="669" y="451.3" textLength="32" lengthAdjust="spacingAndGlyphs">−10</text><text x="669" y="491.3" textLength="32" lengthAdjust="spacingAndGlyphs">−30</text>
<text x="669" y="529.7">25</text><text x="669" y="555.7">0</text><text x="669" y="582" textLength="32" lengthAdjust="spacingAndGlyphs">−25</text>

<text x="62" y="657.7">60</text><text x="62" y="695.3">30</text><text x="62" y="732.7">0</text><text x="62" y="770.7" textLength="32" lengthAdjust="spacingAndGlyphs">−30</text><text x="62" y="808.7" textLength="32" lengthAdjust="spacingAndGlyphs">−60</text>
<text x="62" y="840.3">50</text><text x="62" y="868">0</text><text x="62" y="896" textLength="32" lengthAdjust="spacingAndGlyphs">−50</text>

<text x="669" y="653">100</text><text x="669" y="691.7">60</text><text x="669" y="731">20</text><text x="669" y="770.7" textLength="32" lengthAdjust="spacingAndGlyphs">−20</text><text x="669" y="810" textLength="32" lengthAdjust="spacingAndGlyphs">−60</text>
<text x="669" y="846">50</text><text x="669" y="868.7">0</text><text x="669" y="892" textLength="32" lengthAdjust="spacingAndGlyphs">−50</text>
</g>

<!-- ============ X TICK LABELS ============ -->
<g class="t" text-anchor="middle">
<text x="129.5" y="288" textLength="45" lengthAdjust="spacingAndGlyphs">−0.06</text><text x="197.6" y="288" textLength="45" lengthAdjust="spacingAndGlyphs">−0.04</text><text x="266.2" y="288" textLength="45" lengthAdjust="spacingAndGlyphs">−0.02</text><text x="334.4" y="288">0.00</text><text x="402.5" y="288">0.02</text><text x="471.1" y="288">0.04</text><text x="540" y="288">0.06</text>
<text x="729.5" y="288" textLength="45" lengthAdjust="spacingAndGlyphs">−0.06</text><text x="798.8" y="288" textLength="45" lengthAdjust="spacingAndGlyphs">−0.04</text><text x="868.1" y="288" textLength="45" lengthAdjust="spacingAndGlyphs">−0.02</text><text x="937" y="288">0.00</text><text x="1006.7" y="288">0.02</text><text x="1075.7" y="288">0.04</text><text x="1145" y="288">0.06</text>
<text x="121.8" y="606.5" textLength="45" lengthAdjust="spacingAndGlyphs">−0.06</text><text x="191.5" y="606.5" textLength="45" lengthAdjust="spacingAndGlyphs">−0.04</text><text x="261.2" y="606.5" textLength="45" lengthAdjust="spacingAndGlyphs">−0.02</text><text x="330.1" y="606.5">0.00</text><text x="399.5" y="606.5">0.02</text><text x="468.8" y="606.5">0.04</text><text x="538.5" y="606.5">0.06</text>
<text x="729.5" y="606.5" textLength="45" lengthAdjust="spacingAndGlyphs">−0.06</text><text x="799.2" y="606.5" textLength="45" lengthAdjust="spacingAndGlyphs">−0.04</text><text x="868.5" y="606.5" textLength="45" lengthAdjust="spacingAndGlyphs">−0.02</text><text x="937.4" y="606.5">0.00</text><text x="1007.1" y="606.5">0.02</text><text x="1076.5" y="606.5">0.04</text><text x="1145.8" y="606.5">0.06</text>
<text x="121.8" y="924.5" textLength="45" lengthAdjust="spacingAndGlyphs">−0.06</text><text x="191.5" y="924.5" textLength="45" lengthAdjust="spacingAndGlyphs">−0.04</text><text x="261.2" y="924.5" textLength="45" lengthAdjust="spacingAndGlyphs">−0.02</text><text x="330.1" y="924.5">0.00</text><text x="399.5" y="924.5">0.02</text><text x="468.8" y="924.5">0.04</text><text x="538.5" y="924.5">0.06</text>
<text x="729.5" y="924.5" textLength="45" lengthAdjust="spacingAndGlyphs">−0.06</text><text x="799.2" y="924.5" textLength="45" lengthAdjust="spacingAndGlyphs">−0.04</text><text x="868.5" y="924.5" textLength="45" lengthAdjust="spacingAndGlyphs">−0.02</text><text x="937.4" y="924.5">0.00</text><text x="1007.1" y="924.5">0.02</text><text x="1076.5" y="924.5">0.04</text><text x="1145.8" y="924.5">0.06</text>
</g>

<!-- ============ AXIS LABELS ============ -->
<g class="xl" text-anchor="middle">
<text x="334" y="310" textLength="183" lengthAdjust="spacingAndGlyphs">Time midtransit (days)</text>
<text x="937" y="310" textLength="183" lengthAdjust="spacingAndGlyphs">Time midtransit (days)</text>
<text x="330" y="628.5" textLength="183" lengthAdjust="spacingAndGlyphs">Time midtransit (days)</text>
<text x="937" y="628.5" textLength="183" lengthAdjust="spacingAndGlyphs">Time midtransit (days)</text>
<text x="330" y="947" textLength="183" lengthAdjust="spacingAndGlyphs">Time midtransit (days)</text>
<text x="937" y="947" textLength="183" lengthAdjust="spacingAndGlyphs">Time midtransit (days)</text>
</g>
<g class="t" text-anchor="middle">
<text transform="translate(19.5,139) rotate(-90)" textLength="73" lengthAdjust="spacingAndGlyphs">RV (m/s)</text>
<text transform="translate(624.5,136) rotate(-90)" textLength="73" lengthAdjust="spacingAndGlyphs">RV (m/s)</text>
<text transform="translate(18,455.5) rotate(-90)" textLength="73" lengthAdjust="spacingAndGlyphs">RV (m/s)</text>
<text transform="translate(624.5,455.5) rotate(-90)" textLength="73" lengthAdjust="spacingAndGlyphs">RV (m/s)</text>
<text transform="translate(18,774) rotate(-90)" textLength="73" lengthAdjust="spacingAndGlyphs">RV (m/s)</text>
<text transform="translate(624.5,774) rotate(-90)" textLength="73" lengthAdjust="spacingAndGlyphs">RV (m/s)</text>
</g>
<g class="rl" text-anchor="middle">
<text transform="translate(20.7,229) rotate(-90)" textLength="53" lengthAdjust="spacingAndGlyphs">Residual</text>
<text transform="translate(628.5,227) rotate(-90)" textLength="53" lengthAdjust="spacingAndGlyphs">Residual</text>
<text transform="translate(37,547) rotate(-90)" textLength="53" lengthAdjust="spacingAndGlyphs">Residual</text>
<text transform="translate(628.5,547) rotate(-90)" textLength="53" lengthAdjust="spacingAndGlyphs">Residual</text>
<text transform="translate(20.7,865) rotate(-90)" textLength="53" lengthAdjust="spacingAndGlyphs">Residual</text>
<text transform="translate(628.5,865) rotate(-90)" textLength="53" lengthAdjust="spacingAndGlyphs">Residual</text>
</g>

<!-- ============ LEGENDS ============ -->
<!-- P1 -->
<rect class="lb" x="451.2" y="17.3" width="134" height="82.7" rx="2.5"/>
<line class="lh" x1="454.2" y1="26" x2="479.9" y2="26"/>
<g class="o"><line class="e" x1="466.9" y1="36.3" x2="466.9" y2="48.3"/><circle cx="466.9" cy="42.3" r="4"/></g>
<g class="m"><line class="e" x1="466.9" y1="52.3" x2="466.9" y2="64.3"/><circle cx="466.9" cy="58.3" r="4"/></g>
<g class="c"><line class="e" x1="466.9" y1="68" x2="466.9" y2="80"/><circle cx="466.9" cy="74" r="4"/></g>
<g class="y"><line class="e" x1="466.9" y1="84" x2="466.9" y2="96"/><circle cx="466.9" cy="90" r="4"/></g>
<g class="lg">
<text x="487.6" y="30.5" textLength="93" lengthAdjust="spacingAndGlyphs">Best fit CoRoT-2b</text>
<text x="487.6" y="46.8" textLength="76" lengthAdjust="spacingAndGlyphs">2017-07-12 RM</text>
<text x="487.6" y="62.8" textLength="76" lengthAdjust="spacingAndGlyphs">2017-07-19 RM</text>
<text x="487.6" y="78.5" textLength="70.5" lengthAdjust="spacingAndGlyphs">2017-09-4 RM</text>
<text x="487.6" y="94.5" textLength="76" lengthAdjust="spacingAndGlyphs">2007-09-02 RM</text>
</g>
<!-- P2 -->
<rect class="lb" x="1053.1" y="13.3" width="138.6" height="66.7" rx="2.5"/>
<line class="lh" x1="1057.2" y1="22" x2="1083.7" y2="22"/>
<g class="o"><line class="e" x1="1069.6" y1="32" x2="1069.6" y2="44"/><circle cx="1069.6" cy="38" r="4"/></g>
<g class="m"><line class="e" x1="1069.6" y1="48" x2="1069.6" y2="60"/><circle cx="1069.6" cy="54" r="4"/></g>
<g class="c"><line class="e" x1="1069.6" y1="64" x2="1069.6" y2="76"/><circle cx="1069.6" cy="70" r="4"/></g>
<g class="lg">
<text x="1091" y="26.5" textLength="96" lengthAdjust="spacingAndGlyphs">Best fit WASP-19b</text>
<text x="1091" y="42.5" textLength="76.6" lengthAdjust="spacingAndGlyphs">2017-05-05 RM</text>
<text x="1091" y="58.5" textLength="76.6" lengthAdjust="spacingAndGlyphs">2008-05-09 RM</text>
<text x="1091" y="74.5" textLength="76.6" lengthAdjust="spacingAndGlyphs">2010-03-19 RM</text>
</g>
<!-- P3 -->
<rect class="lb" x="446.2" y="332.7" width="138.6" height="67.3" rx="2.5"/>
<line class="lh" x1="449.3" y1="341" x2="475.7" y2="341"/>
<g class="o"><line class="e" x1="462.7" y1="351.3" x2="462.7" y2="363.3"/><circle cx="462.7" cy="357.3" r="4"/></g>
<g class="m"><line class="e" x1="462.7" y1="367.3" x2="462.7" y2="379.3"/><circle cx="462.7" cy="373.3" r="4"/></g>
<g class="c"><line class="e" x1="462.7" y1="384" x2="462.7" y2="396"/><circle cx="462.7" cy="390" r="4"/></g>
<g class="lg">
<text x="483.3" y="345.5" textLength="97" lengthAdjust="spacingAndGlyphs">Best fit WASP-41b</text>
<text x="483.3" y="361.8" textLength="76.6" lengthAdjust="spacingAndGlyphs">2017-04-15 RM</text>
<text x="483.3" y="377.8" textLength="76.6" lengthAdjust="spacingAndGlyphs">2008-04-21 RM</text>
<text x="483.3" y="394.5" textLength="76.6" lengthAdjust="spacingAndGlyphs">2011-04-03 RM</text>
</g>
<!-- P4 -->
<rect class="lb" x="1059.2" y="332.7" width="132.5" height="51.3" rx="2.5"/>
<line class="lh" x1="1062.3" y1="341" x2="1088.7" y2="341"/>
<g class="o"><line class="e" x1="1075.3" y1="351.3" x2="1075.3" y2="363.3"/><circle cx="1075.3" cy="357.3" r="4"/></g>
<g class="m"><line class="e" x1="1075.3" y1="367.3" x2="1075.3" y2="379.3"/><circle cx="1075.3" cy="373.3" r="4"/></g>
<g class="lg">
<text x="1096.4" y="345.5" textLength="90.8" lengthAdjust="spacingAndGlyphs">Best fit WASP-6b</text>
<text x="1096.4" y="361.8" textLength="77" lengthAdjust="spacingAndGlyphs">2017-09-17 RM</text>
<text x="1096.4" y="377.8" textLength="77" lengthAdjust="spacingAndGlyphs">2008-10-18 RM</text>
</g>
<!-- P5 -->
<rect class="lb" x="446.2" y="651.3" width="138.6" height="51.4" rx="2.5"/>
<line class="lh" x1="449.3" y1="660" x2="475.7" y2="660"/>
<g class="o"><line class="e" x1="462.7" y1="670" x2="462.7" y2="682"/><circle cx="462.7" cy="676" r="4"/></g>
<g class="m"><line class="e" x1="462.7" y1="686" x2="462.7" y2="698"/><circle cx="462.7" cy="692" r="4"/></g>
<g class="lg">
<text x="483.3" y="664.5" textLength="97" lengthAdjust="spacingAndGlyphs">Best fit WASP-52b</text>
<text x="483.3" y="680.5" textLength="76.6" lengthAdjust="spacingAndGlyphs">2017-09-21 RM</text>
<text x="483.3" y="696.5" textLength="76.6" lengthAdjust="spacingAndGlyphs">2011-08-21 RM</text>
</g>
<!-- P6 -->
<rect class="lb" x="1063" y="651.3" width="132" height="51.4" rx="2.5"/>
<line class="lh" x1="1066.1" y1="660" x2="1092.5" y2="660"/>
<g class="o"><line class="e" x1="1079.1" y1="670" x2="1079.1" y2="682"/><circle cx="1079.1" cy="676" r="4"/></g>
<g class="m"><line class="e" x1="1079.1" y1="686.7" x2="1079.1" y2="698.7"/><circle cx="1079.1" cy="692.7" r="4"/></g>
<g class="lg">
<text x="1100.6" y="664.5" textLength="86.6" lengthAdjust="spacingAndGlyphs">Best fit Qatar-2b</text>
<text x="1100.6" y="680.5" textLength="77" lengthAdjust="spacingAndGlyphs">2017-07-10 RM</text>
<text x="1100.6" y="697.2" textLength="77" lengthAdjust="spacingAndGlyphs">2014-04-27 RM</text>
</g>
</svg>
</body></html>
